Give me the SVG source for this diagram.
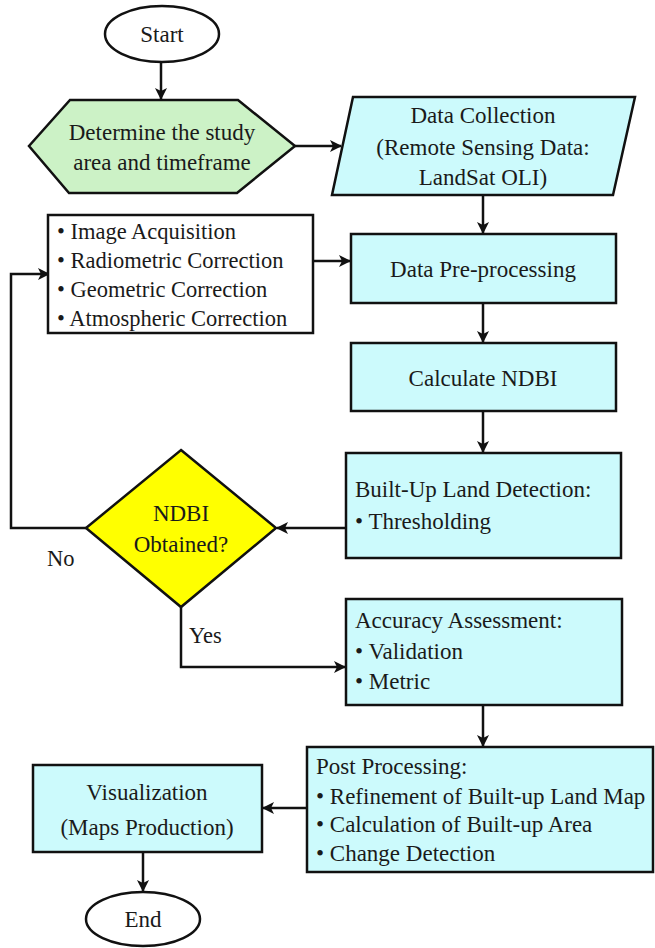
<svg xmlns="http://www.w3.org/2000/svg" width="655" height="948" viewBox="0 0 655 948">
<defs>
<style>
.n{stroke:#111;stroke-width:2.5;}
.c{fill:#ccfafc;}
.t{font-family:'Liberation Serif','Tinos','Times New Roman','Noto Serif','DejaVu Serif',serif;font-size:23px;fill:#1a1a1a;}
.s{font-size:22.5px;}
.m{text-anchor:middle;}
.e{fill:none;stroke:#111;stroke-width:2.5;}
</style>
<marker id="ah" viewBox="0 0 12 12" refX="11" refY="6" markerWidth="12" markerHeight="12" markerUnits="userSpaceOnUse" orient="auto">
<path d="M0,0 L12,6 L0,12 L3,6 Z" fill="#111"/>
</marker>
</defs>
<rect width="655" height="948" fill="#fff"/>
<g id="connectors">
<path class="e" d="M161,62 V99" marker-end="url(#ah)"/>
<path class="e" d="M295,146 H341" marker-end="url(#ah)"/>
<path class="e" d="M483,195 V233" marker-end="url(#ah)"/>
<path class="e" d="M313,261 H350" marker-end="url(#ah)"/>
<path class="e" d="M483,303 V342" marker-end="url(#ah)"/>
<path class="e" d="M483,411 V452" marker-end="url(#ah)"/>
<path class="e" d="M346,528 H277" marker-end="url(#ah)"/>
<path class="e" d="M86,528 H11 V274 H49" marker-end="url(#ah)"/>
<path class="e" d="M181,607 V667 H345" marker-end="url(#ah)"/>
<path class="e" d="M483,705 V746" marker-end="url(#ah)"/>
<path class="e" d="M307,808 H263" marker-end="url(#ah)"/>
<path class="e" d="M143,852 V891" marker-end="url(#ah)"/>
</g>
<g id="start">
<ellipse class="n" cx="162" cy="34" rx="57" ry="28" fill="#fff"/>
<text class="t m" x="162" y="42">Start</text>
</g>
<g id="study-area">
<polygon class="n" points="70,100 238,100 295,146 237,193 69,193 29,146" fill="#ccf2c6"/>
<text class="t m" x="162" y="140">Determine the study</text>
<text class="t m" x="162" y="170">area and timeframe</text>
</g>
<g id="data-collection">
<polygon class="n c" points="353,97 635,97 613,195 332,195"/>
<text class="t m" x="483" y="123">Data Collection</text>
<text class="t m" x="483" y="155">(Remote Sensing Data:</text>
<text class="t m" x="483" y="185">LandSat OLI)</text>
</g>
<g id="preprocessing-steps">
<rect class="n" x="48" y="215" width="265" height="118" fill="#fff"/>
<text class="t s" x="57" y="239">• Image Acquisition</text>
<text class="t s" x="57" y="268">• Radiometric Correction</text>
<text class="t s" x="57" y="297">• Geometric Correction</text>
<text class="t s" x="57" y="326">• Atmospheric Correction</text>
</g>
<g id="data-preprocessing">
<rect class="n c" x="351" y="234" width="265" height="69"/>
<text class="t m" x="483" y="277">Data Pre-processing</text>
</g>
<g id="calculate-ndbi">
<rect class="n c" x="351" y="343" width="265" height="68"/>
<text class="t m" x="483" y="386">Calculate NDBI</text>
</g>
<g id="built-up-detection">
<rect class="n c" x="346" y="453" width="275" height="105"/>
<text class="t" x="355" y="497">Built-Up Land Detection:</text>
<text class="t" x="355" y="529">• Thresholding</text>
</g>
<g id="ndbi-decision">
<polygon class="n" points="181,450 276,528 181,607 86,528" fill="#ffff00"/>
<text class="t m" x="181" y="521">NDBI</text>
<text class="t m" x="181" y="552">Obtained?</text>
</g>
<g id="labels">
<text class="t s" x="47" y="566">No</text>
<text class="t s" x="189" y="643">Yes</text>
</g>
<g id="accuracy">
<rect class="n c" x="346" y="599" width="276" height="106"/>
<text class="t" x="355" y="628">Accuracy Assessment:</text>
<text class="t" x="355" y="659">• Validation</text>
<text class="t" x="355" y="689">• Metric</text>
</g>
<g id="post-processing">
<rect class="n c" x="307" y="747" width="346" height="125"/>
<text class="t" x="316" y="774">Post Processing:</text>
<text class="t" x="316" y="804">• Refinement of Built-up Land Map</text>
<text class="t" x="316" y="832">• Calculation of Built-up Area</text>
<text class="t" x="316" y="861">• Change Detection</text>
</g>
<g id="visualization">
<rect class="n c" x="33" y="765" width="229" height="87"/>
<text class="t m" x="147" y="800">Visualization</text>
<text class="t m" x="147" y="835">(Maps Production)</text>
</g>
<g id="end">
<ellipse class="n" cx="143" cy="919" rx="57" ry="27" fill="#fff"/>
<text class="t m" x="143" y="927">End</text>
</g>
</svg>
